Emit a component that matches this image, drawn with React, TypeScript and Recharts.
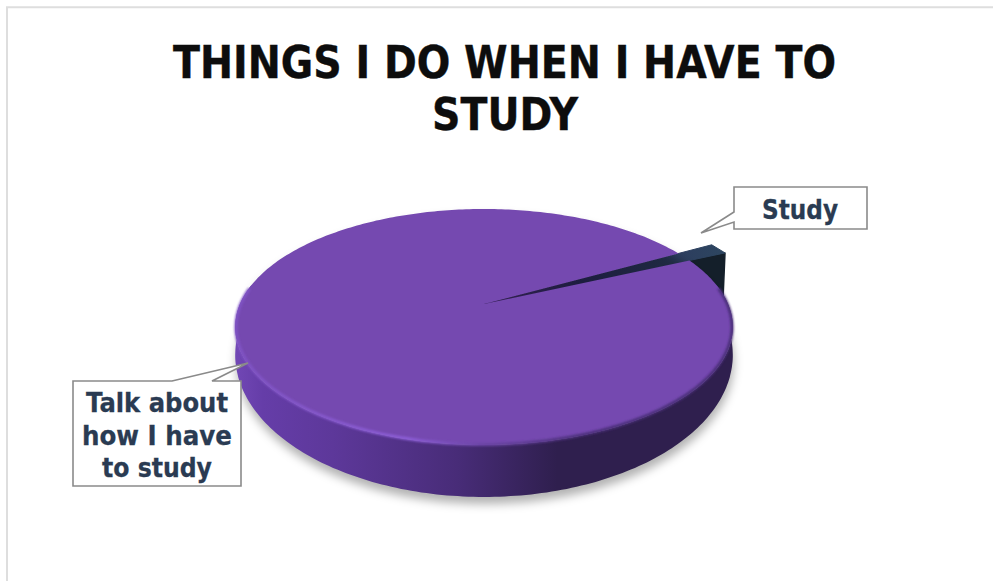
import React from "react";
import { PieChart, Pie } from "recharts";

const categories = ["Study", "Talk about how I have to study"];
const shares = [1.3, 98.7];
const sliceColors = ["#2b4058", "#7549b0"];
const titleLines = ["THINGS I DO WHEN I HAVE TO", "STUDY"];
const calloutLines = [["Study"], ["Talk about", "how I have", "to study"]];

const W = 993;
const H = 581;
const FONT = "'DejaVu Sans', Tahoma, sans-serif";

// tilted disc: unit circle on a plane, seen with some perspective
const CX = 484;
const CY = 304;
const RX = 244;
const RY = 113.5;
const PERSP = 0.195;
const STUDY_PULL = 1.19; // the small slice sticks out past the rim
const STUDY_DROP = 46;

// lower edge of the wall, a stretched copy of the top ellipse
const TOP_MID_Y = 327;
const BASE_MID_Y = 355;
const BASE_STRETCH = 1.203;

const project = (deg: number, r = 1): [number, number] => {
  const a = (deg * Math.PI) / 180;
  const u = r * Math.cos(a);
  const v = r * Math.sin(a);
  const w = 1 + PERSP * v;
  return [CX + (RX * u) / w, CY - (RY * v) / w];
};

const toBase = ([x, y]: [number, number]): [number, number] => [
  x,
  BASE_MID_Y + (y - TOP_MID_Y) * BASE_STRETCH,
];

const pt = (p: [number, number]) => `${p[0].toFixed(1)},${p[1].toFixed(1)}`;

const arcPoints = (from: number, to: number, r = 1) => {
  const out: [number, number][] = [];
  const steps = Math.max(1, Math.ceil(Math.abs(to - from)));
  for (let i = 0; i <= steps; i++) {
    out.push(project(from + ((to - from) * i) / steps, r));
  }
  return out;
};

const StudySlice = ({ startAngle, endAngle }: any) => {
  const apex = project(0, 0);
  const lower = project(startAngle, STUDY_PULL);
  const upper = project(endAngle, STUDY_PULL);
  const lowerDown: [number, number] = [lower[0] - 2, lower[1] + STUDY_DROP];
  const apexDown: [number, number] = [apex[0], apex[1] + STUDY_DROP];
  return (
    <g>
      <polygon
        points={[apex, lower, lowerDown, apexDown].map(pt).join(" ")}
        fill="#141f2a"
        stroke="#141f2a"
        strokeWidth={1.5}
        strokeLinejoin="round"
      />
      <polygon
        points={[apex, lower, upper].map(pt).join(" ")}
        fill="url(#studyTop)"
        stroke="url(#studyTop)"
        strokeWidth={1}
        strokeLinejoin="round"
      />
    </g>
  );
};

const TalkSlice = ({ startAngle, endAngle, fill }: any) => {
  const rimTop = arcPoints(startAngle, endAngle).map(pt);
  const front = arcPoints(170, 370);
  const frontDown = [...front].reverse().map(toBase);
  const back = arcPoints(370, 530);
  const bevel = arcPoints(172, 368, 0.997).map(pt);
  return (
    <g>
      <path
        d={`M${[...front.map(toBase), ...back].map(pt).join(" L")}Z`}
        transform="translate(1 7)"
        fill="#000"
        fillOpacity={0.3}
        filter="url(#softShadow)"
      />
      <path d={`M${[...front, ...frontDown].map(pt).join(" L")}Z`} fill="url(#wallShade)" />
      <path d={`M${pt(project(0, 0))} L${rimTop.join(" L")}Z`} fill={fill} />
      <path
        d={`M${bevel.join(" L")}`}
        fill="none"
        stroke="url(#rimShade)"
        strokeWidth={3}
        filter="url(#softRim)"
      />
    </g>
  );
};

const renderSlice = (props: any) =>
  props.index === 0 ? <StudySlice {...props} /> : <TalkSlice {...props} />;

// callout boxes with a pointer toward their slice
const calloutBoxes = [
  {
    outline: "734,187 867,187 867,229 734,229 734,222 701,233 734,212",
    x: 800,
    baselines: [219],
    widths: [76],
  },
  {
    outline: "73,381 172,381 248,363 212,381 241,381 241,486 73,486",
    x: 157,
    baselines: [412, 445, 477],
    widths: [142, 150, 110],
  },
];

const renderCallout = ({ index }: any) => {
  const box = calloutBoxes[index];
  return (
    <g key={categories[index]}>
      <polygon points={box.outline} fill="#fff" stroke="#8a8a8a" strokeWidth={1.6} />
      {calloutLines[index].map((line, i) => (
        <text
          key={line}
          x={box.x}
          y={box.baselines[i]}
          textAnchor="middle"
          fontFamily={FONT}
          fontWeight={700}
          fontSize={26}
          fill="#2a3b52"
          stroke="#2a3b52"
          strokeWidth={0.3}
          textLength={box.widths[i]}
          lengthAdjust="spacingAndGlyphs"
        >
          {line}
        </text>
      ))}
    </g>
  );
};

export default function App() {
  const rows = categories.map((name, i) => ({
    name,
    value: shares[i],
    fill: sliceColors[i],
  }));

  return (
    <div style={{ position: "fixed", left: 0, top: 0, width: W, height: H, background: "#fff" }}>
      <PieChart width={W} height={H} margin={{ top: 0, right: 0, bottom: 0, left: 0 }}>
        <defs>
          <linearGradient id="wallShade" gradientUnits="userSpaceOnUse" x1={233} x2={732} y1={0} y2={0}>
            <stop offset="0" stopColor="#7248b6" />
            <stop offset="0.06" stopColor="#653dA8" />
            <stop offset="0.2" stopColor="#5d389a" />
            <stop offset="0.45" stopColor="#482c78" />
            <stop offset="0.65" stopColor="#2f1f4e" />
            <stop offset="1" stopColor="#2f1f4e" />
          </linearGradient>
          <linearGradient id="rimShade" gradientUnits="userSpaceOnUse" x1={233} x2={732} y1={0} y2={0}>
            <stop offset="0" stopColor="#7f52c4" />
            <stop offset="0.15" stopColor="#8558cc" />
            <stop offset="0.35" stopColor="#8d5ed8" />
            <stop offset="0.5" stopColor="#6a44a4" />
            <stop offset="0.7" stopColor="#4a2f78" />
            <stop offset="1" stopColor="#4a2f78" />
          </linearGradient>
          <linearGradient id="studyTop" gradientUnits="userSpaceOnUse" x1={488} x2={720} y1={0} y2={0}>
            <stop offset="0" stopColor="#4a2d78" />
            <stop offset="0.4" stopColor="#2a2a5a" />
            <stop offset="1" stopColor="#2d4560" />
          </linearGradient>
          <filter id="softShadow" x="-10%" y="-10%" width="120%" height="130%">
            <feGaussianBlur stdDeviation="5" />
          </filter>
          <filter id="softRim" x="-5%" y="-20%" width="110%" height="140%">
            <feGaussianBlur stdDeviation="1.2" />
          </filter>
        </defs>

        <path d={`M7 ${H} V7.3 H${W}`} fill="none" stroke="#dedede" strokeWidth={2} />

        <text
          x={504.5}
          y={78}
          textAnchor="middle"
          fontFamily={FONT}
          fontWeight={700}
          fontSize={45}
          fill="#0d0d0d"
          stroke="#0d0d0d"
          strokeWidth={0.4}
          textLength={663}
          lengthAdjust="spacingAndGlyphs"
        >
          {titleLines[0]}
        </text>
        <text
          x={505}
          y={130}
          textAnchor="middle"
          fontFamily={FONT}
          fontWeight={700}
          fontSize={45}
          fill="#0d0d0d"
          stroke="#0d0d0d"
          strokeWidth={0.4}
          textLength={146}
          lengthAdjust="spacingAndGlyphs"
        >
          {titleLines[1]}
        </text>

        <Pie
          data={rows}
          dataKey="value"
          nameKey="name"
          cx={CX}
          cy={CY}
          outerRadius={RX}
          startAngle={24.5}
          endAngle={384.5}
          stroke="none"
          shape={renderSlice}
          label={renderCallout}
          labelLine={false}
          isAnimationActive={false}
        />
      </PieChart>
    </div>
  );
}
